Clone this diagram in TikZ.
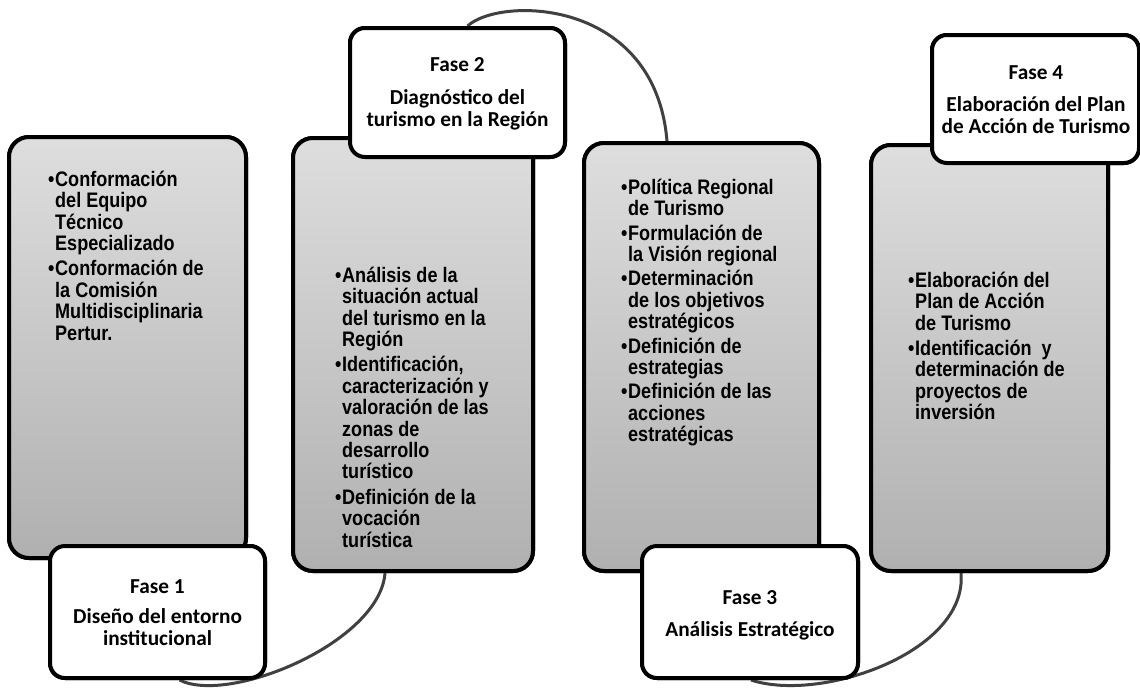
\documentclass[tikz,border=0pt]{standalone}
\usepackage{fontspec}
\setmainfont{Liberation Sans}
\newfontfamily\narrowsans[FakeStretch=0.86]{Liberation Sans}
\newfontfamily\calib{Carlito}
\usetikzlibrary{calc}
\newcommand{\mybul}{\makebox[7pt][l]{\textbullet}}
\newcommand{\myind}{\hspace*{7pt}}
\begin{document}
\begin{tikzpicture}[x=1pt,y=-1pt,
  bigbox/.style={draw=black, line width=4pt, rounded corners=20pt, top color=black!13, bottom color=black!31, inner sep=0pt},
  fasebox/.style={draw=black, line width=4pt, rounded corners=15pt, fill=white, inner sep=0pt},
  bul/.style={anchor=north west, inner sep=0pt, align=left, font=\narrowsans\bfseries\fontsize{21}{21.4}\selectfont},
  ftxt/.style={anchor=north, inner sep=0pt, align=center, font=\calib\bfseries\fontsize{21.3}{22}\selectfont},
  conn/.style={draw=black!75, line width=3pt}]
\useasboundingbox (0,0) rectangle (1140,694);
% big boxes (first pass, used as anchors for connectors)
\node[bigbox, minimum width=237pt, minimum height=421pt] (b1) at (127.5,347.5) {};
\node[bigbox, minimum width=240pt, minimum height=433pt] (b2) at (413,354.5) {};
\node[bigbox, minimum width=235pt, minimum height=428pt] (b3) at (701.5,357) {};
\node[bigbox, minimum width=237pt, minimum height=426pt] (b4) at (989.5,358) {};
% phase boxes
\node[fasebox, minimum width=215pt, minimum height=132pt] (f1) at (157.5,612) {};
\node[fasebox, minimum width=215pt, minimum height=129pt] (f2) at (457.5,92.5) {};
\node[fasebox, minimum width=216pt, minimum height=132pt] (f3) at (750,612) {};
\node[fasebox, minimum width=207pt, minimum height=128pt] (f4) at (1035.5,99) {};
% connectors
\draw[conn] ($(f1.south)+(22,0)$) .. controls +(50,25) and +(-5,69) .. ($(b2.south)+(-28,0)$);
\draw[conn] ($(f2.north)+(10,0)$) .. controls +(33,-30) and +(-12,-143) .. ($(b3.north)+(-34.5,0)$);
\draw[conn] ($(f3.south)+(1,0)$) .. controls +(70,23) and +(7,79) .. ($(b4.south)+(-28.5,0)$);
% boxes again on top of the connector ends
\node[bigbox, minimum width=237pt, minimum height=421pt] (b1t) at (b1) {};
\node[bigbox, minimum width=240pt, minimum height=433pt] (b2t) at (b2) {};
\node[bigbox, minimum width=235pt, minimum height=428pt] (b3t) at (b3) {};
\node[bigbox, minimum width=237pt, minimum height=426pt] (b4t) at (b4) {};
\node[fasebox, minimum width=215pt, minimum height=132pt] (f1t) at (f1) {};
\node[fasebox, minimum width=215pt, minimum height=129pt] (f2t) at (f2) {};
\node[fasebox, minimum width=216pt, minimum height=132pt] (f3t) at (f3) {};
\node[fasebox, minimum width=207pt, minimum height=128pt] (f4t) at (f4) {};
% bullet texts
\node[bul] (t1) at (48,168) {\rule{0pt}{18pt}\mybul Conformación\\\myind del Equipo\\\myind Técnico\\\myind Especializado\\[4pt]\mybul Conformación de\\\myind la Comisión\\\myind Multidisciplinaria\\\myind Pertur.};
\node[bul] (t2) at (335,264) {\rule{0pt}{18pt}\mybul Análisis de la\\\myind situación actual\\\myind del turismo en la\\\myind Región\\[4pt]\mybul Identificación,\\\myind caracterización y\\\myind valoración de las\\\myind zonas de\\\myind desarrollo\\\myind turístico\\[4pt]\mybul Definición de la\\\myind vocación\\\myind turística};
\node[bul] (t3) at (621,176) {\rule{0pt}{18pt}\mybul Política Regional\\\myind de Turismo\\[3pt]\mybul Formulación de\\\myind la Visión regional\\[3pt]\mybul Determinación\\\myind de los objetivos\\\myind estratégicos\\[3pt]\mybul Definición de\\\myind estrategias\\[3pt]\mybul Definición de las\\\myind acciones\\\myind estratégicas};
\node[bul] (t4) at (908,269) {\rule{0pt}{18pt}\mybul Elaboración del\\\myind Plan de Acción\\\myind de Turismo\\[4pt]\mybul Identificación~ y\\\myind determinación de\\\myind proyectos de\\\myind inversión};
% phase texts
\node[ftxt] (p1) at (157.5,576) {\rule{0pt}{17pt}Fase 1\\[8pt]Diseño del entorno\\institucional};
\node[ftxt] (p2) at (457.5,54) {\rule{0pt}{17pt}Fase 2\\[11pt]Diagnóstico del\\turismo en la Región};
\node[ftxt] (p3) at (750,587) {\rule{0pt}{17pt}Fase 3\\[10pt]Análisis Estratégico};
\node[ftxt] (p4) at (1036,62) {\rule{0pt}{17pt}Fase 4\\[10pt]Elaboración del Plan\\de Acción de Turismo};
\end{tikzpicture}
\end{document}
